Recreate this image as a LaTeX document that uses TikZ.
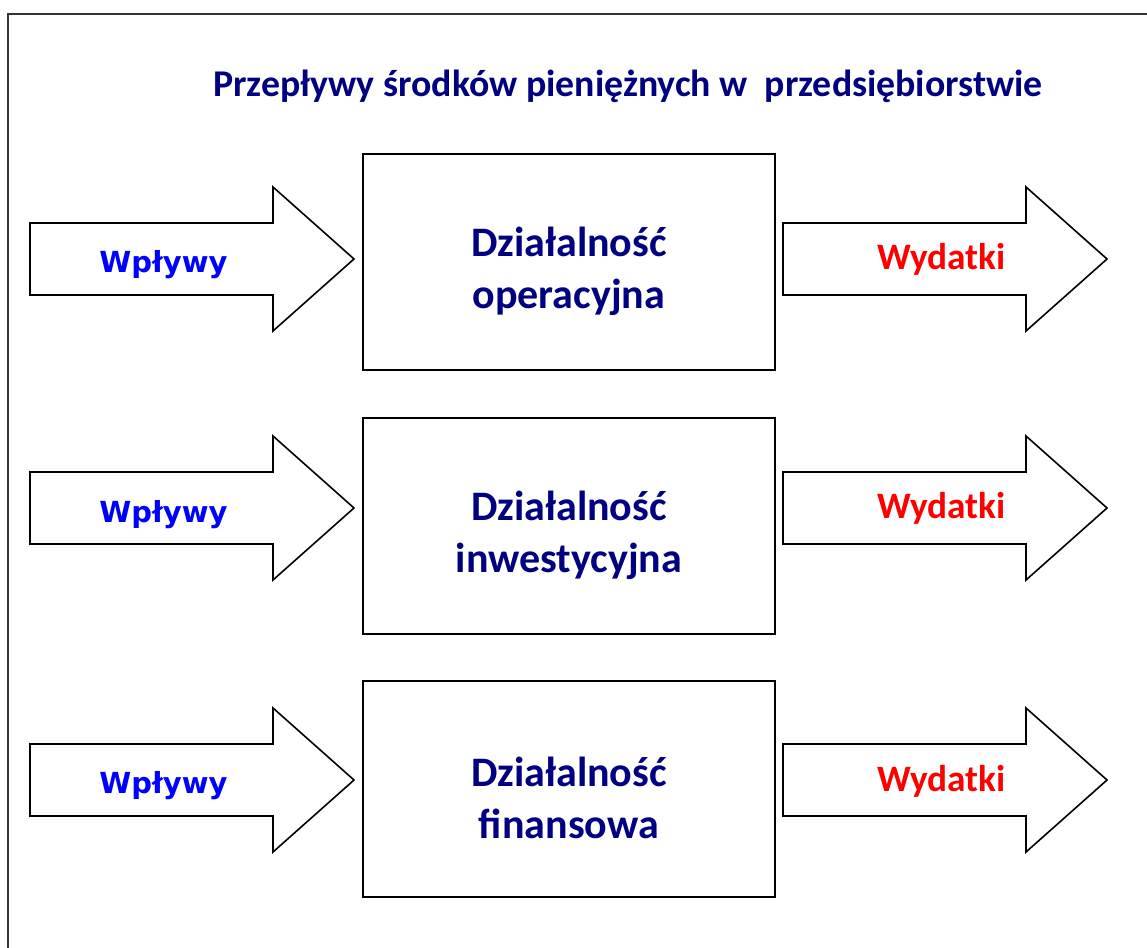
\documentclass[tikz,border=0pt]{standalone}
\usepackage{fontspec}
\setmainfont{Carlito}
\newfontfamily\verdfont{DejaVu Sans}
\definecolor{navyt}{RGB}{0,0,128}
\definecolor{bluet}{RGB}{0,0,255}
\definecolor{redt}{RGB}{255,0,0}
\tikzset{
  arrowline/.style={draw=black, line width=1.6pt, fill=white, line join=miter},
  fatarrow/.pic={\draw[arrowline] (0,-36) -- (243,-36) -- (243,-72) -- (324,0) -- (243,72) -- (243,36) -- (0,36) -- cycle;},
  actbox/.style={draw=black, line width=1.8pt, minimum width=412pt, minimum height=216pt, inner sep=0pt, anchor=north west},
  acttext/.style={font=\bfseries\fontsize{42}{52}\selectfont, text=navyt, align=center, inner sep=0pt},
  intext/.style={font=\verdfont\bfseries\fontsize{29}{34}\selectfont, text=bluet, inner sep=0pt, anchor=base},
  outtext/.style={font=\bfseries\fontsize{37.3}{42}\selectfont, text=redt, inner sep=0pt, anchor=base},
  titletext/.style={font=\bfseries\fontsize{37.8}{44}\selectfont, text=navyt, inner sep=0pt, anchor=base},
}
\begin{document}
\begin{tikzpicture}[x=1pt, y=-1pt]
\useasboundingbox (0,0) rectangle (1147,947);
\fill[white] (0,0) rectangle (1147,947);
\draw[line width=1.6pt, black!80] (8,950) -- (8,14) -- (1150,14);
\node[titletext] (title) at (628,97) {Przepływy środków pieniężnych w\ \ przedsiębiorstwie};
% boxes
\node[actbox] (b1) at (362,153) {};
\node[actbox] (b2) at (362,417) {};
\node[actbox] (b3) at (362,680) {};
\node[acttext] (t1) at ([yshift=-9pt]b1.center) {Działalność\\operacyjna};
\node[acttext] (t2) at ([yshift=-9pt]b2.center) {Działalność\\inwestycyjna};
\node[acttext] (t3) at ([yshift=-9pt]b3.center) {Działalność\\finansowa};
% arrows
\pic at (30,259) {fatarrow};
\pic at (30,508) {fatarrow};
\pic at (30,780) {fatarrow};
\pic at (783,259) {fatarrow};
\pic at (783,508) {fatarrow};
\pic at (783,780) {fatarrow};
\node[intext] (w1) at (163.5,272) {Wpływy};
\node[intext] (w2) at (163.5,522) {Wpływy};
\node[intext] (w3) at (163.5,793) {Wpływy};
\node[outtext] (o1) at (941.5,269) {Wydatki};
\node[outtext] (o2) at (941.5,518) {Wydatki};
\node[outtext] (o3) at (941.5,791) {Wydatki};
\end{tikzpicture}
\end{document}
